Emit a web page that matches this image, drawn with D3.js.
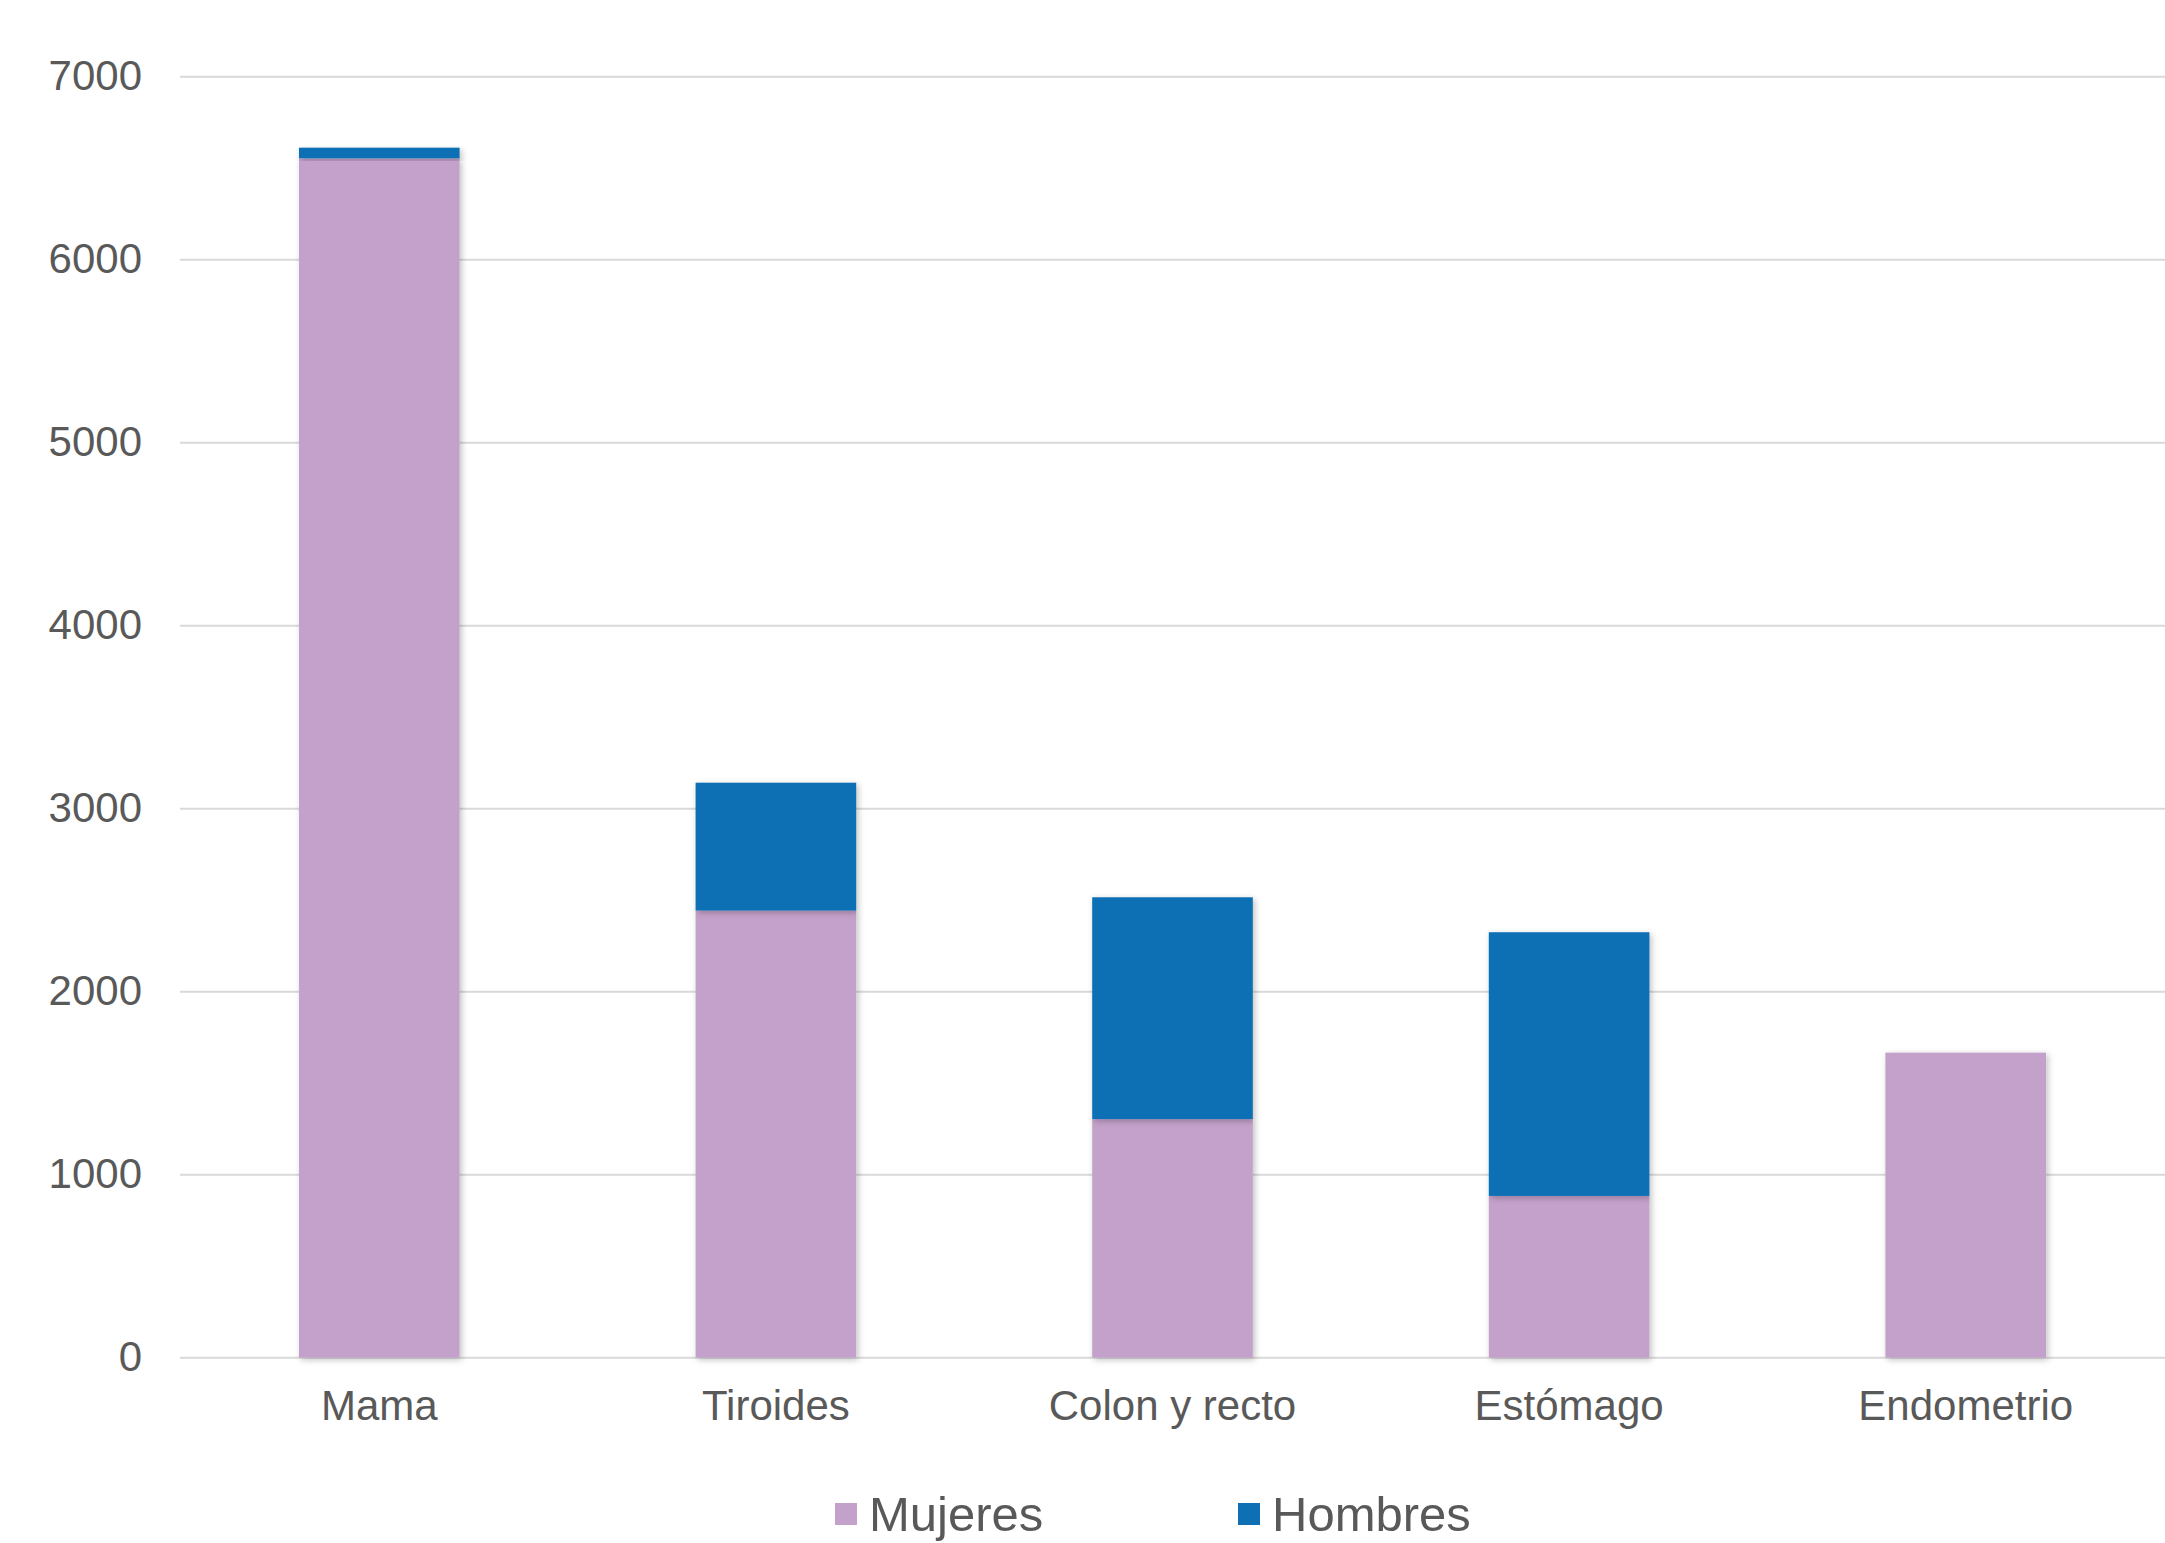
<!DOCTYPE html>
<html>
<head>
<meta charset="utf-8">
<script src="https://cdn.jsdelivr.net/npm/d3@7"></script>
<style>
  body { margin: 0; background: #fff; }
  svg { display: block; }
</style>
</head>
<body>
<script>
// chart values
const categories = ["Mama", "Tiroides", "Colon y recto", "Estómago", "Endometrio"];
const mujeres = [6554, 2443, 1304, 884, 1667];
const hombres = [58, 699, 1212, 1441, 0];
const seriesNames = ["Mujeres", "Hombres"];
const yTicks = [0, 1000, 2000, 3000, 4000, 5000, 6000, 7000];

const colors = {Mujeres: "#c4a1ca", Hombres: "#0e6fb5"};

const W = 2165, H = 1543;
const margin = {top: 76.7, right: 0, bottom: 185.3, left: 180};
const width = W - margin.left - margin.right,
      height = H - margin.top - margin.bottom;

const svg = d3.select("body")
  .append("svg")
  .attr("width", W)
  .attr("height", H);

// soft shadow like the office chart
const defs = svg.append("defs");
const f = defs.append("filter").attr("id", "shadow")
  .attr("x", "-10%").attr("y", "-10%").attr("width", "130%").attr("height", "130%");
f.append("feDropShadow")
  .attr("dx", 2).attr("dy", 2).attr("stdDeviation", 3)
  .attr("flood-color", "#000").attr("flood-opacity", 0.25);

const g = svg.append("g")
  .attr("transform", "translate(" + margin.left + "," + margin.top + ")");

let data = categories.map((c, i) => ({cat: c, Mujeres: mujeres[i], Hombres: hombres[i]}));

let x = d3.scaleBand()
  .domain(categories)
  .range([0, width])
  .paddingInner(0.595)
  .paddingOuter(0.3);

let y = d3.scaleLinear()
  .domain([0, 7000])
  .range([height, 0]);

// gridlines
g.append("g")
  .selectAll("line")
  .data(yTicks)
  .enter()
  .append("line")
  .attr("x1", 0)
  .attr("x2", width)
  .attr("y1", d => y(d))
  .attr("y2", d => y(d))
  .style("stroke", "#d9d9d9")
  .style("stroke-width", 2);

// y axis labels
let yAxis = g.append("g")
  .call(d3.axisLeft(y).tickValues(yTicks).tickSize(0).tickPadding(38).tickFormat(d3.format("d")));
yAxis.select(".domain").remove();
yAxis.selectAll("text")
  .attr("dy", "0.3em")
  .style("font-family", "'Liberation Sans', Arial, sans-serif")
  .style("font-size", "42px")
  .style("fill", "#595959");

// stacked bars
let stack = d3.stack().keys(seriesNames)(data);

g.append("g")
  .selectAll("g")
  .data(stack)
  .enter()
  .append("g")
  .style("fill", d => colors[d.key])
  .selectAll("rect")
  .data(d => d.filter(s => s[1] - s[0] > 0))
  .enter()
  .append("rect")
  .attr("x", d => x(d.data.cat))
  .attr("y", d => y(d[1]))
  .attr("height", d => y(d[0]) - y(d[1]))
  .attr("width", x.bandwidth())
  .attr("filter", "url(#shadow)");

// x axis labels
let xAxis = g.append("g")
  .attr("transform", "translate(0," + height + ")")
  .call(d3.axisBottom(x).tickSize(0).tickPadding(32));
xAxis.select(".domain").remove();
xAxis.selectAll("text")
  .attr("dy", "0.71em")
  .style("font-family", "'Liberation Sans', Arial, sans-serif")
  .style("font-size", "42px")
  .style("fill", "#595959");

// legend
let legendX = [835, 1238];
let legend = svg.append("g")
  .selectAll("g")
  .data(seriesNames)
  .enter()
  .append("g")
  .attr("transform", (d, i) => "translate(" + legendX[i] + ",1503)");

legend.append("rect")
  .attr("width", 22)
  .attr("height", 22)
  .style("fill", d => colors[d]);

legend.append("text")
  .attr("x", 34)
  .attr("y", 28)
  .text(d => d)
  .style("font-family", "'Liberation Sans', Arial, sans-serif")
  .style("font-size", "49px")
  .style("fill", "#595959");
</script>
</body>
</html>
